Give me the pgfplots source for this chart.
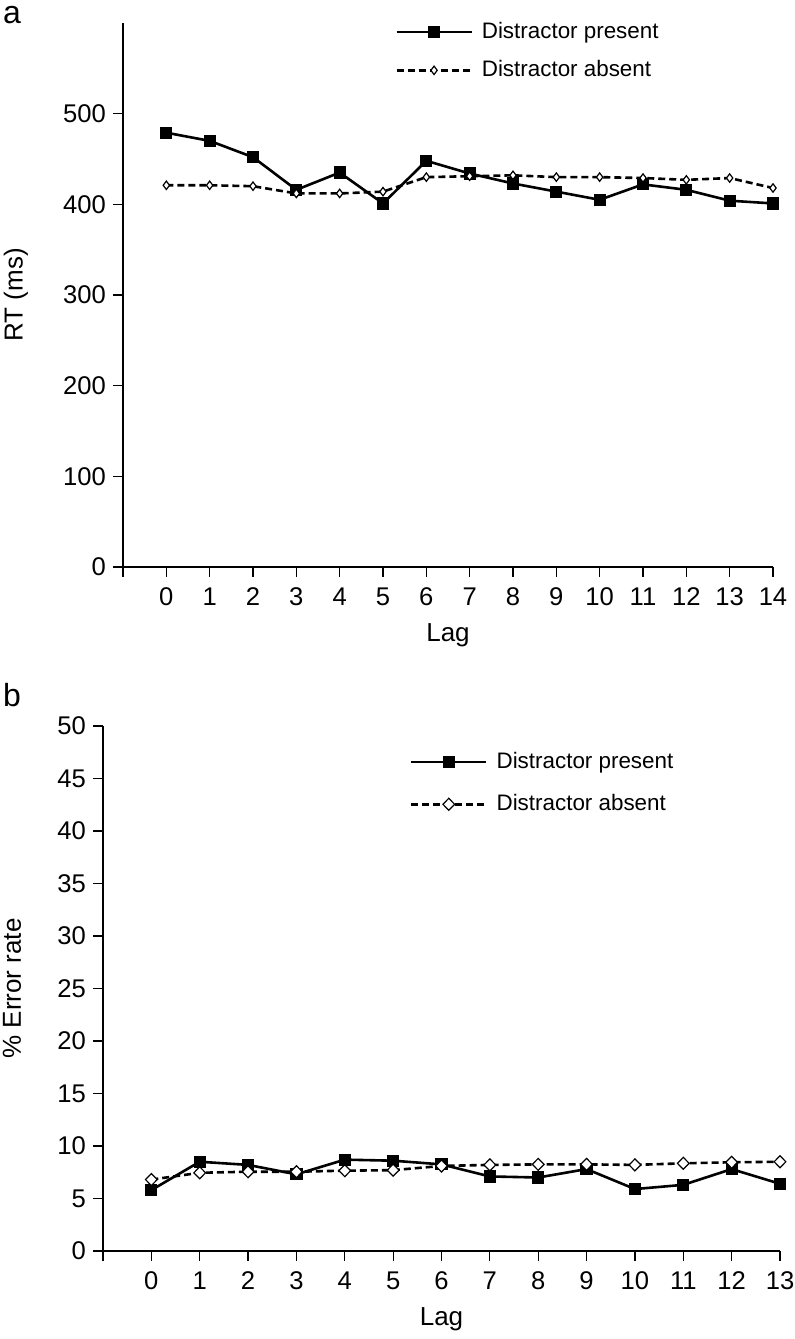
\documentclass[border=0pt]{standalone}
\usepackage{fontspec}
\setmainfont{Liberation Sans}
\usepackage{pgfplots}
\pgfplotsset{compat=1.18}
\pgfplotsset{
 common/.style={
  scale only axis,
  axis x line=bottom, axis y line=left,
  axis line style={-, line width=0.6pt, black},
  tick align=outside,
  major tick length=5pt,
  tick style={line width=0.6pt, black},
  /pgf/number format/assume math mode=true,
  ticklabel style={font=\fontsize{12.8}{14}\selectfont},
  xticklabel style={yshift=-2pt},
  label style={font=\fontsize{13}{15}\selectfont},
  legend cell align=left,
  legend image code/.code={\draw[mark repeat=2,mark phase=2,##1] plot coordinates {(0pt,0pt)(18.75pt,0pt)(37.5pt,0pt)};},
 },
 present/.style={black, line width=1.3pt, mark=square*, mark size=2.4pt, mark options={solid}},
}
\begin{document}
\begin{tikzpicture}
\path[use as bounding box] (0,0) rectangle (397pt,669.5pt);
\node[font=\fontsize{16}{18}\selectfont, anchor=center] at (6pt,662pt) {a};
\node[font=\fontsize{16}{18}\selectfont, anchor=center] at (6pt,322pt) {b};

\begin{axis}[common, at={(61.5pt,386pt)}, anchor=south west,
  width=325pt, height=272pt,
  xmin=-1, xmax=14, ymin=0, ymax=600,
  xtick={-1,0,...,14}, xticklabels={,0,1,2,3,4,5,6,7,8,9,10,11,12,13,14},
  ytick={0,100,...,500},
  xlabel={Lag}, ylabel={RT (ms)},
  xlabel style={at={(axis description cs:0.5,-0.125)}, anchor=center},
  ylabel style={at={(axis description cs:-0.1646,0.5)}, anchor=center},
  legend style={draw=none, fill=none, at={(axis description cs:0.409,1.009)}, anchor=north west,
    font=\fontsize{11.2}{13}\selectfont, row sep=9.5pt, column sep=4.5pt, nodes={inner sep=0pt}},
]
\addplot[present] coordinates {(0,479)(1,470)(2,452)(3,416)(4,435)(5,401)(6,448)(7,434)(8,423)(9,414)(10,405)(11,422)(12,416)(13,404)(14,401)};
\addlegendentry{Distractor present}
\addplot[black, line width=1.3pt, dash pattern=on 3.5pt off 2pt, mark=diamond*, mark size=2.1pt, mark options={solid, fill=white, line width=0.6pt}] coordinates {(0,421)(1,421)(2,420)(3,412)(4,412)(5,414)(6,430)(7,431)(8,432)(9,430)(10,430)(11,429)(12,427)(13,429)(14,418)};
\addlegendentry{Distractor absent}
\end{axis}

\begin{axis}[common, at={(51.5pt,44pt)}, anchor=south west,
  width=338.5pt, height=262.5pt,
  xmin=-1, xmax=13, ymin=0, ymax=50,
  xtick={-1,0,...,13}, xticklabels={,0,1,2,3,4,5,6,7,8,9,10,11,12,13},
  ytick={0,5,...,50},
  xlabel={Lag}, ylabel={\% Error rate},
  xlabel style={at={(axis description cs:0.5,-0.1295)}, anchor=center},
  ylabel style={at={(axis description cs:-0.1344,0.5)}, anchor=center},
  legend style={draw=none, fill=none, at={(axis description cs:0.444,0.958)}, anchor=north west,
    font=\fontsize{11.2}{13}\selectfont, row sep=11.5pt, column sep=4.5pt, nodes={inner sep=0pt}},
]
\addplot[present] coordinates {(0,5.8)(1,8.5)(2,8.2)(3,7.3)(4,8.7)(5,8.6)(6,8.25)(7,7.1)(8,7.0)(9,7.8)(10,5.9)(11,6.3)(12,7.8)(13,6.4)};
\addlegendentry{Distractor present}
\addplot[black, line width=1.3pt, dash pattern=on 3.5pt off 2pt, mark=diamond*, mark size=3pt, mark options={solid, fill=white, line width=0.6pt, xscale=1.3}] coordinates {(0,6.8)(1,7.45)(2,7.55)(3,7.55)(4,7.65)(5,7.7)(6,8.1)(7,8.2)(8,8.25)(9,8.25)(10,8.2)(11,8.35)(12,8.45)(13,8.5)};
\addlegendentry{Distractor absent}
\end{axis}
\end{tikzpicture}
\end{document}
